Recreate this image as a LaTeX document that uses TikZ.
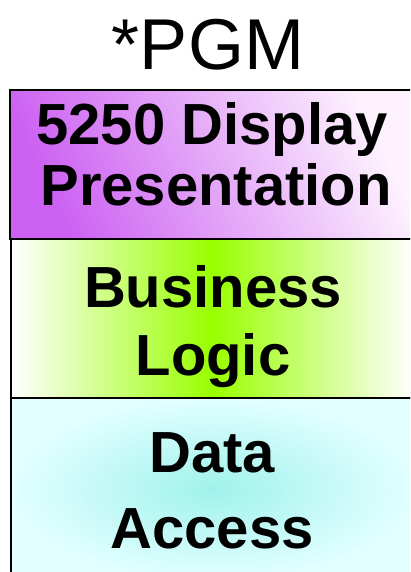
\documentclass[tikz,border=0pt]{standalone}
\usepackage{fontspec}
\setmainfont{Liberation Sans}
\usepackage{tikz}

\definecolor{pgmpurple}{RGB}{204,96,242}
\definecolor{pgmpink}{RGB}{253,242,254}
\definecolor{pgmgreen}{RGB}{153,255,0}
\definecolor{pgmcyan}{RGB}{160,242,236}
\definecolor{pgmice}{RGB}{226,255,255}

\begin{document}
\begin{tikzpicture}[x=1pt, y=-1pt,
	layer/.style={draw=black, line width=2.5pt},
	big/.style={font=\fontsize{58}{60}\selectfont\bfseries, anchor=base, inner sep=0pt}]
	\useasboundingbox (0,0) rectangle (410,572);
	\clip (0,0) rectangle (410,572);
	\node[font=\fontsize{72}{74}\selectfont, anchor=base, inner sep=0pt] (pgm) at (208,70) {*PGM};
	% presentation layer
	\shade[left color=pgmpurple, right color=pgmpink, shading angle=115] (10,90) rectangle (414,239);
	\draw[layer] (10,90) rectangle (414,239);
	\node[big] (disp) at (212,145) {5250 Display};
	\node[big] (pres) at (216,205) {Presentation};
	% business layer
	\shade[left color=white, right color=white, middle color=pgmgreen] (11,239) rectangle (414,398);
	\draw[layer] (11,239) rectangle (414,398);
	\node[big] (busi) at (213,307) {Business};
	\node[big] (logic) at (213,375) {Logic};
	% data layer
	\shade[inner color=pgmcyan, outer color=pgmice] (11,398) rectangle (414,580);
	\draw[layer] (11,398) rectangle (414,580);
	\node[big] (data) at (212,472) {Data};
	\node[big] (access) at (212,548) {Access};
\end{tikzpicture}
\end{document}
